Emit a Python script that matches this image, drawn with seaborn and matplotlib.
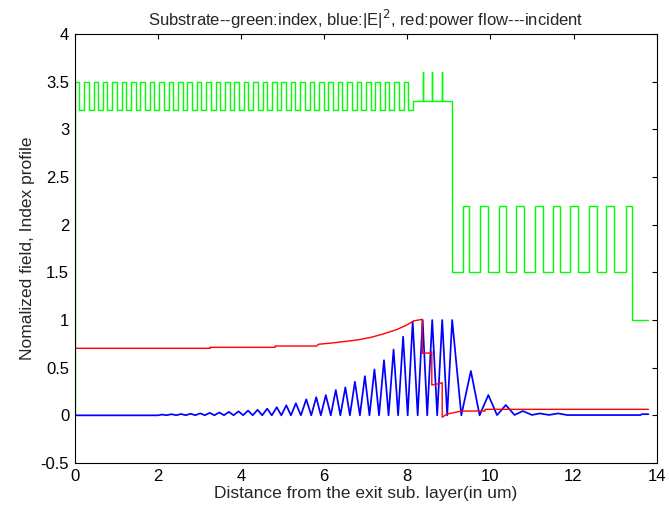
import matplotlib
matplotlib.use('Agg')
import matplotlib.pyplot as plt
import numpy as np
import pandas as pd
import seaborn as sns

# ---- index profile (green) ----
# first grating: alternating high / low layers, starting with a high layer at x=0
grating1_index = [3.5, 3.2] * 36
grating1_thick = [0.110, 0.116] * 36
mid_level = 3.3
mid_end = 9.08
spike_x = [8.37, 8.60, 8.84]
spike_top = 3.6
grating2_low = 1.5
grating2_high = 2.2
grating2_start = [9.33, 9.75, 10.21, 10.62, 11.07, 11.50, 11.91, 12.37, 12.79, 13.25]
grating2_end = [9.49, 9.95, 10.38, 10.81, 11.26, 11.67, 12.11, 12.56, 12.98, 13.41]
exit_level = 1.0
x_end = 13.8

# ---- |E|^2 (blue): peaks and troughs ----
peak_x = [2.10, 2.33, 2.56, 2.79, 3.02, 3.25, 3.48, 3.71, 3.94, 4.17, 4.40, 4.63, 4.86,
          5.09, 5.32, 5.57, 5.81, 6.04, 6.28, 6.51, 6.74, 6.98, 7.21, 7.44, 7.67, 7.90,
          8.13, 8.37, 8.60, 8.84, 9.08, 9.53, 9.95, 10.37, 10.78, 11.19, 11.63]
peak_y = [0.008, 0.012, 0.014, 0.017, 0.021, 0.026, 0.030, 0.036, 0.042, 0.050, 0.058,
          0.070, 0.085, 0.105, 0.126, 0.168, 0.190, 0.212, 0.265, 0.293, 0.352, 0.411,
          0.481, 0.578, 0.690, 0.825, 0.983, 1.0, 1.0, 1.0, 1.0, 0.465, 0.213, 0.108,
          0.045, 0.020, 0.020]
trough_x = [0.0, 2.0, 2.21, 2.44, 2.67, 2.90, 3.13, 3.36, 3.59, 3.82, 4.05, 4.28, 4.51,
            4.74, 4.97, 5.20, 5.44, 5.69, 5.92, 6.16, 6.39, 6.62, 6.86, 7.09, 7.32, 7.55,
            7.78, 8.01, 8.25, 8.48, 8.72, 8.96, 9.30, 9.74, 10.16, 10.58, 11.00, 11.41,
            11.85, 13.60, 13.65, 13.80]
trough_y = [0.0, 0.0, 0.001, 0.001, 0.001, 0.001, 0.001, 0.001, 0.001, 0.001, 0.001,
            0.001, 0.0, 0.0, 0.0, 0.0, 0.0, 0.0, 0.0, 0.0, 0.0, 0.0, 0.0, 0.0, 0.0, 0.0,
            0.0, 0.0, 0.0, 0.0, 0.0, 0.0, 0.0, 0.0, 0.002, 0.004, 0.004, 0.004,
            0.003, 0.003, 0.012, 0.012]

# ---- power flow (red) ----
red_x = [0.0, 0.0, 3.26, 3.26, 4.82, 4.82, 5.82, 5.86, 6.22, 6.50, 6.70, 6.86, 7.02,
         7.10, 7.42, 7.75, 7.99, 8.15, 8.36, 8.36, 8.55, 8.59, 8.59, 8.79, 8.84, 8.84,
         8.95, 9.31, 9.87, 9.87, 13.8]
red_y = [0.0, 0.703, 0.703, 0.713, 0.713, 0.727, 0.727, 0.745, 0.760, 0.775, 0.785,
         0.795, 0.810, 0.815, 0.853, 0.900, 0.948, 0.990, 1.007, 0.650, 0.655, 0.667,
         0.318, 0.335, 0.342, -0.02, 0.013, 0.045, 0.045, 0.063, 0.063]

x_ticks = [0, 2, 4, 6, 8, 10, 12, 14]
y_ticks = [-0.5, 0, 0.5, 1, 1.5, 2, 2.5, 3, 3.5, 4]
y_tick_labels = ['-0.5', '0', '0.5', '1', '1.5', '2', '2.5', '3', '3.5', '4']

# build the index profile outline
gx, gy = [0.0], [0.0]
pos = 0.0
for n, d in zip(grating1_index, grating1_thick):
    gx += [pos, pos + d]
    gy += [n, n]
    pos += d
gx += [pos]
gy += [mid_level]
for s in spike_x:
    gx += [s, s, s]
    gy += [mid_level, spike_top, mid_level]
gx += [mid_end, mid_end]
gy += [mid_level, grating2_low]
for s, e in zip(grating2_start, grating2_end):
    gx += [s, s, e, e]
    gy += [grating2_low, grating2_high, grating2_high, grating2_low]
gx += [grating2_end[-1], x_end]
gy += [exit_level, exit_level]
green = pd.DataFrame({'x': gx, 'y': gy})

blue = pd.DataFrame({'x': peak_x + trough_x, 'y': peak_y + trough_y}).sort_values('x')
red = pd.DataFrame({'x': red_x, 'y': red_y})

sns.set_style('white')
plt.rcParams['font.family'] = ['Liberation Sans', 'DejaVu Sans']

fig, ax = plt.subplots(figsize=(6.69, 5.14), dpi=100)
fig.subplots_adjust(left=0.1117, right=0.9816, bottom=0.0992, top=0.934)

sns.lineplot(data=green, x='x', y='y', sort=False, estimator=None, color='#00ff00', lw=1.0, ax=ax)
sns.lineplot(data=blue, x='x', y='y', sort=False, estimator=None, color='#0000ff', lw=1.25, ax=ax)
sns.lineplot(data=red, x='x', y='y', sort=False, estimator=None, color='#ff0000', lw=1.0, ax=ax)

ax.set_xlim(0, 14)
ax.set_ylim(-0.5, 4)
ax.set_xticks(x_ticks)
ax.set_xticklabels([str(t) for t in x_ticks])
ax.set_yticks(y_ticks)
ax.set_yticklabels(y_tick_labels)
ax.tick_params(direction='in', length=3.5, width=0.8, top=True, right=True,
               labelsize=12, colors='black', pad=4)
for sp in ax.spines.values():
    sp.set_color('black')
    sp.set_linewidth(0.8)

ax.set_xlabel('Distance from the exit sub. layer(in um)', fontsize=12.5, labelpad=2)
ax.set_ylabel('Nomalized field, Index profile', fontsize=12.5, labelpad=4)
ax.set_title(r'Substrate--green:index, blue:|E|$^2$, red:power flow---incident',
             fontsize=12, pad=6)

plt.savefig('out.png', dpi=100)
